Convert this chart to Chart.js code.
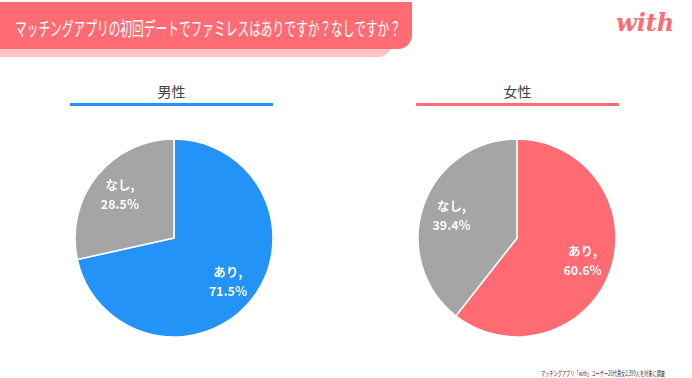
<!DOCTYPE html>
<html>
<head>
<meta charset="utf-8">
<script src="https://cdn.jsdelivr.net/npm/chart.js@4"></script>
<style>
  body { margin: 0; width: 692px; height: 378px; background: #fff; position: relative; overflow: hidden;
         font-family: "Noto Sans CJK JP", sans-serif; }
  .banner-shadow { position: absolute; left: 0; top: 30px; width: 392px; height: 27px; background: #FFC3C6; border-bottom-right-radius: 14px; }
  .banner { position: absolute; left: 0; top: 2px; width: 412px; height: 47px; background: #FF6B72; border-bottom-right-radius: 14px; }
  .title { position: absolute; left: 15px; top: 13px; color: #fff; font-size: 19px; line-height: 30px; white-space: nowrap;
           transform-origin: left center; }
  .logo { position: absolute; left: 616px; top: 8px; color: #FF6B72; font-family: "DejaVu Serif", serif; font-style: italic; font-weight: bold; font-size: 24px; }
  .head { position: absolute; top: 81px; width: 203px; text-align: center; font-size: 14px; color: #404040; padding-bottom: 2px; }
  .note { position: absolute; left: 541px; top: 366px; font-size: 10px; line-height: 14px; color: #333; white-space: nowrap; transform-origin: left center; }
  canvas { position: absolute; }
</style>
</head>
<body>
<div class="banner-shadow"></div>
<div class="banner"></div>
<div class="title" data-fit="386" data-sy="1">マッチングアプリの初回デートでファミレスはありですか？なしですか？</div>
<div class="logo">with</div>
<div class="head" style="left:70px;border-bottom:3px solid #2493F8">男性</div>
<div class="head" style="left:416px;border-bottom:3px solid #FF6B72">女性</div>
<canvas id="male" width="204" height="204" style="left:72px;top:136px"></canvas>
<canvas id="female" width="204" height="204" style="left:415px;top:136px"></canvas>
<div class="note" data-fit="124" data-sy="0.7">マッチングアプリ「with」ユーザー20代男女2,399人を対象に調査</div>
<script>
const categories = ["あり", "なし"]
const maleValues = [71.5, 28.5]
const femaleValues = [60.6, 39.4]

// squeeze text to the width it has in the picture
document.querySelectorAll("[data-fit]").forEach(el => {
  const w = el.getBoundingClientRect().width
  el.style.transform = "scale(" + (Number(el.dataset.fit) / w) + "," + el.dataset.sy + ")"
})

const sliceLabels = {
  id: "sliceLabels",
  afterDatasetsDraw(chart) {
    const ctx = chart.ctx
    const meta = chart.getDatasetMeta(0)
    const values = chart.data.datasets[0].data
    ctx.save()
    ctx.fillStyle = "#fff"
    ctx.font = "bold 12.5px 'Noto Sans CJK JP', sans-serif"
    ctx.textAlign = "center"
    ctx.textBaseline = "middle"
    meta.data.forEach((arc, i) => {
      const mid = (arc.startAngle + arc.endAngle) / 2
      const r = arc.outerRadius * 0.7
      const x = arc.x + Math.cos(mid) * r
      const y = arc.y + Math.sin(mid) * r
      ctx.fillText(chart.data.labels[i] + ",", x, y - 9)
      ctx.fillText(values[i].toFixed(1) + "%", x, y + 10)
    })
    ctx.restore()
  }
}

function makePie(id, values, color) {
  new Chart(document.getElementById(id), {
    type: "pie",
    data: {
      labels: categories,
      datasets: [{
        data: values,
        backgroundColor: [color, "#A5A5A5"],
        borderColor: "#fff",
        borderWidth: 1.5,
      }],
    },
    options: {
      responsive: false,
      animation: false,
      radius: 99,
      plugins: { legend: { display: false }, tooltip: { enabled: false } },
    },
    plugins: [sliceLabels],
  })
}

makePie("male", maleValues, "#2493F8")
makePie("female", femaleValues, "#FF6B72")
</script>
</body>
</html>
